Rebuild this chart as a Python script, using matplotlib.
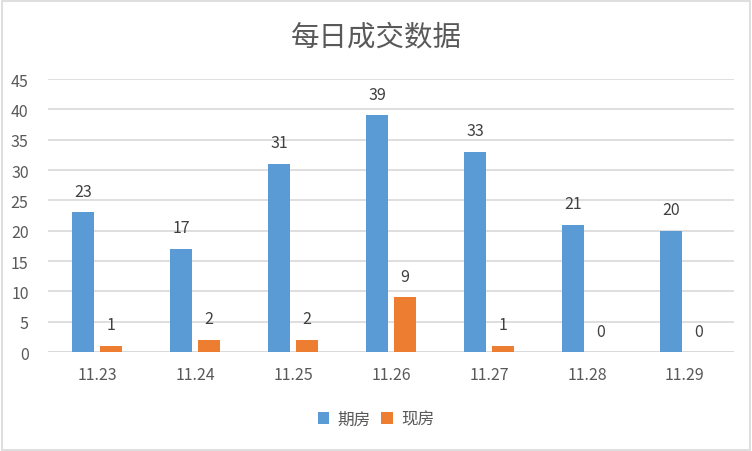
import numpy as np
import matplotlib
matplotlib.use('Agg')
from matplotlib import pyplot as plt
from matplotlib.patches import Rectangle

plt.rcParams['font.family'] = ['Noto Sans CJK SC', 'DejaVu Sans']

# data
dates = ['11.23', '11.24', '11.25', '11.26', '11.27', '11.28', '11.29']
qifang = [23, 17, 31, 39, 33, 21, 20]
xianfang = [1, 2, 2, 9, 1, 0, 0]

blue = '#5B9BD5'
orange = '#ED7D31'
txt = '#595959'

fig = plt.figure(figsize=(7.52, 4.52), dpi=100)
ax = fig.add_axes([0.064, 0.219, 0.912, 0.604])

x = np.arange(len(dates))
w = 0.225
b1 = ax.bar(x - 0.14, qifang, w, color=blue, label='期房', zorder=3)
b2 = ax.bar(x + 0.14, xianfang, w, color=orange, label='现房', zorder=3)

for bars, vals in ((b1, qifang), (b2, xianfang)):
    for r, v in zip(bars, vals):
        ax.annotate(str(v), (r.get_x() + r.get_width() / 2, v),
                    xytext=(0, 9), textcoords='offset points',
                    ha='center', va='bottom', fontsize=11.5, color='#404040')

ax.set_ylim(0, 45)
ax.set_yticks(range(0, 46, 5))
ax.set_xlim(-0.5, len(dates) - 0.5)
ax.set_xticks(x)
ax.set_xticklabels(dates)
ax.yaxis.grid(True, color='#D9D9D9', linewidth=1.2, zorder=0)
ax.tick_params(axis='both', length=0, labelsize=11.5, colors=txt)
ax.tick_params(axis='x', pad=10)
ax.tick_params(axis='y', pad=14)
for s in ax.spines.values():
    s.set_visible(False)
ax.axhline(0, color='#D9D9D9', linewidth=1.2, zorder=2)

fig.suptitle('每日成交数据', fontsize=20.5, color=txt, y=0.95)

leg = fig.legend(loc='center', bbox_to_anchor=(0.5, 0.07), ncol=2, frameon=False,
                 fontsize=12, handlelength=0.7, handleheight=0.7,
                 handletextpad=0.5, columnspacing=0.6)
for t in leg.get_texts():
    t.set_color(txt)

fig.patches.append(Rectangle((0.002, 0.003), 0.995, 0.993, transform=fig.transFigure,
                             fill=False, edgecolor='#D9D9D9', linewidth=1.2))

plt.savefig('out.png', dpi=100)
